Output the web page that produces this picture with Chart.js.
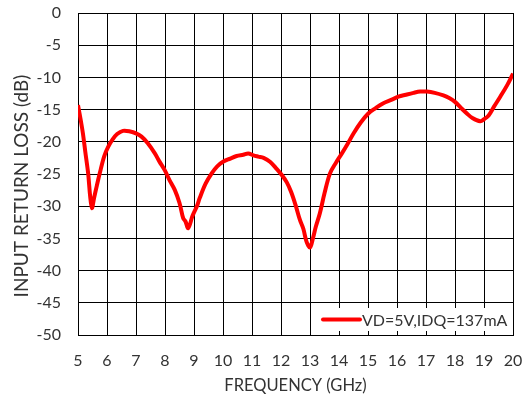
<!DOCTYPE html>
<html>
<head>
<meta charset="utf-8">
<script src="https://cdn.jsdelivr.net/npm/chart.js@4/dist/chart.umd.min.js"></script>
<style>
  html, body { margin: 0; padding: 0; background: #fff; }
  #wrap { width: 527px; height: 400px; }
</style>
</head>
<body>
<div id="wrap"><canvas id="c" width="527" height="400"></canvas></div>
<script>
// Measured input return loss vs. frequency
const seriesLabel = 'VD=5V,IDQ=137mA';
const xTitle = 'FREQUENCY (GHz)';
const yTitle = 'INPUT RETURN LOSS (dB)';
const freqGHz = [
  5.0, 5.1, 5.17, 5.25, 5.35, 5.42, 5.48, 5.55, 5.65, 5.75, 5.9, 6.04, 6.2, 6.35, 6.55, 6.8,
  7.0, 7.19, 7.4, 7.65, 7.8, 7.99, 8.15, 8.34, 8.5, 8.63, 8.7, 8.8, 8.95, 9.1, 9.2, 9.4,
  9.61, 9.8, 10.0, 10.25, 10.47, 10.7, 10.87, 11.05, 11.22, 11.4, 11.62, 11.85, 12.0, 12.2,
  12.35, 12.5, 12.65, 12.77, 12.88, 13.0, 13.1, 13.2, 13.34, 13.5, 13.69, 13.9, 14.1, 14.3,
  14.5, 14.75, 15.01, 15.25, 15.53, 15.8, 16.05, 16.3, 16.57, 16.8, 17.03, 17.3, 17.6, 17.8,
  18.0, 18.2, 18.41, 18.6, 18.87, 19.0, 19.16, 19.35, 19.56, 19.8, 20.0
];
const returnLossDb = [
  -14.3, -16.8, -18.7, -21.5, -24.9, -28.5, -30.3, -28.8, -26.8, -24.9, -22.3, -20.8, -19.6, -18.8, -18.3, -18.4,
  -18.7, -19.2, -20.2, -21.8, -23.0, -24.4, -25.9, -27.5, -29.5, -31.9, -32.3, -33.4, -31.5, -30.0, -28.7, -26.5,
  -24.9, -23.8, -23.1, -22.6, -22.2, -22.0, -21.8, -22.1, -22.3, -22.5, -23.1, -24.2, -25.0, -26.3,
  -27.8, -29.8, -32.1, -33.5, -35.5, -36.4, -35.0, -33.2, -31.1, -28.0, -24.9, -23.2, -21.8, -20.3,
  -18.7, -17.0, -15.6, -14.8, -14.0, -13.5, -13.0, -12.7, -12.4, -12.2, -12.2, -12.4, -12.8, -13.2,
  -13.8, -14.7, -15.6, -16.3, -16.8, -16.5, -15.9, -14.5, -13.0, -11.2, -9.4
];
const xTicks = [5, 6, 7, 8, 9, 10, 11, 12, 13, 14, 15, 16, 17, 18, 19, 20];
const yTicks = [0, -5, -10, -15, -20, -25, -30, -35, -40, -45, -50];

const FONT = 'Lato, "Open Sans", sans-serif';
const LINE_RED = '#ff0000';
const TEXT_DARK = '#333333';

// Legend box drawn inside the plot, lower right corner
const insideLegend = {
  id: 'insideLegend',
  afterDatasetsDraw(chart) {
    const { ctx, chartArea } = chart;
    const ds = chart.data.datasets[0];
    const boxRight = chartArea.right - 1;
    const boxLeft = boxRight - 200;
    const boxBottom = chartArea.bottom - 4;
    const boxTop = chartArea.bottom - 27;
    ctx.save();
    ctx.fillStyle = '#fff';
    ctx.fillRect(boxLeft, boxTop, boxRight - boxLeft, boxBottom - boxTop);
    const midY = (boxTop + boxBottom) / 2;
    ctx.strokeStyle = ds.borderColor;
    ctx.lineWidth = 4;
    ctx.lineCap = 'round';
    ctx.beginPath();
    ctx.moveTo(boxLeft + 11, midY);
    ctx.lineTo(boxLeft + 48, midY);
    ctx.stroke();
    ctx.fillStyle = TEXT_DARK;
    ctx.font = '16px ' + FONT;
    ctx.textBaseline = 'middle';
    ctx.textAlign = 'left';
    ctx.fillText(ds.label, boxLeft + 50, midY + 1);
    ctx.restore();
  }
};

// Vertical axis title, placed a little below the middle of the plot
const yAxisTitle = {
  id: 'yAxisTitle',
  afterDraw(chart) {
    const { ctx, chartArea } = chart;
    ctx.save();
    ctx.translate(27.5, (chartArea.top + chartArea.bottom) / 2 + 12);
    ctx.rotate(-Math.PI / 2);
    ctx.fillStyle = TEXT_DARK;
    ctx.font = '19px ' + FONT;
    ctx.textAlign = 'center';
    ctx.textBaseline = 'alphabetic';
    ctx.fillText(yTitle, 0, 0);
    ctx.restore();
  }
};

new Chart(document.getElementById('c'), {
  type: 'line',
  data: {
    datasets: [{
      label: seriesLabel,
      data: freqGHz.map((f, i) => ({ x: f, y: returnLossDb[i] })),
      borderColor: LINE_RED,
      borderWidth: 4,
      pointRadius: 0,
      tension: 0.35,
      fill: false
    }]
  },
  options: {
    responsive: false,
    animation: false,
    devicePixelRatio: 1,
    layout: { padding: { top: 13, right: 14, left: 0, bottom: 0 } },
    plugins: { legend: { display: false }, tooltip: { enabled: false } },
    scales: {
      x: {
        type: 'linear',
        min: 5, max: 20,
        afterBuildTicks(scale) { scale.ticks = xTicks.map(v => ({ value: v })); },
        afterFit(scale) { scale.height = 65; scale.paddingLeft = 0; scale.paddingRight = 0; },
        grid: { color: '#000', lineWidth: 1, drawTicks: false },
        border: { color: '#000', width: 1 },
        ticks: { color: TEXT_DARK, font: { family: FONT, size: 16 }, padding: 16, maxRotation: 0 },
        title: {
          display: true, text: xTitle, color: TEXT_DARK,
          font: { family: FONT, size: 16.5 }, padding: { top: 0, bottom: 4 }
        }
      },
      y: {
        min: -50, max: 0,
        afterBuildTicks(scale) { scale.ticks = yTicks.map(v => ({ value: v })); },
        afterFit(scale) { scale.width = 78; scale.paddingTop = 0; scale.paddingBottom = 0; },
        grid: { color: '#000', lineWidth: 1, drawTicks: false },
        border: { color: '#000', width: 1 },
        ticks: { color: TEXT_DARK, font: { family: FONT, size: 16 }, padding: 17 }
      }
    }
  },
  plugins: [insideLegend, yAxisTitle]
});
</script>
</body>
</html>
